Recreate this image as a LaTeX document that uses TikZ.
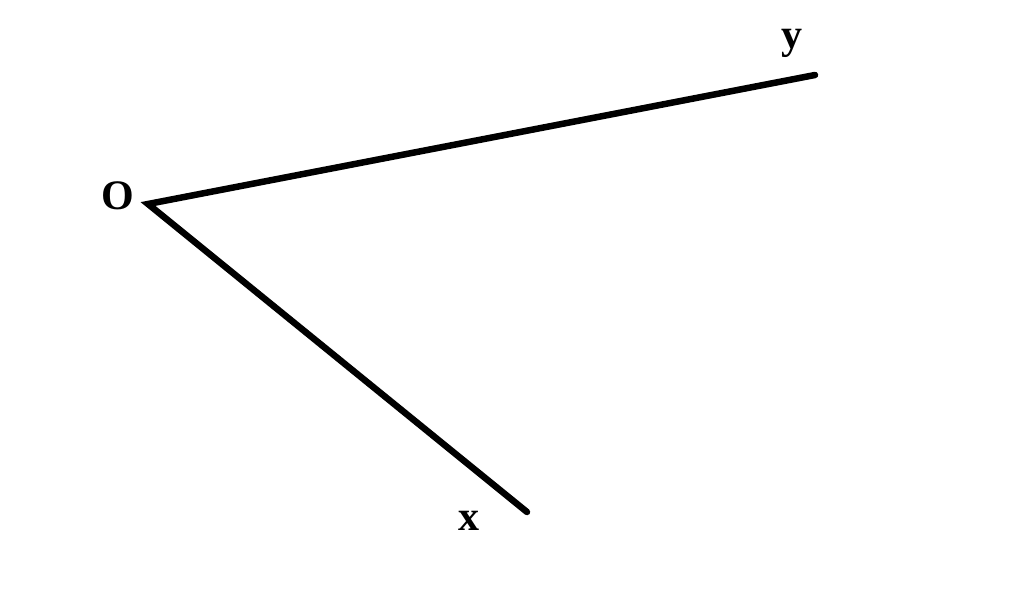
\documentclass[tikz,border=0pt]{standalone}
\usepackage{fontspec}
\setmainfont{Liberation Serif}
\begin{document}
\begin{tikzpicture}[x=1pt,y=-1pt,
  ray/.style={line width=6.5pt,line cap=round},
  lbl/.style={font=\fontsize{42}{46}\selectfont\bfseries,inner sep=0pt}]
\useasboundingbox (0,0) rectangle (1024,599);
\coordinate (O) at (148,204);
\coordinate (Y) at (815,75);
\coordinate (X) at (527,512);
\draw[ray] (Y) -- (O) -- (X);
\node[lbl] (lo) at (118,196) {O};
\node[lbl] (ly) at (792,43) {y};
\node[lbl] (lx) at (469,521) {x};
\end{tikzpicture}
\end{document}
